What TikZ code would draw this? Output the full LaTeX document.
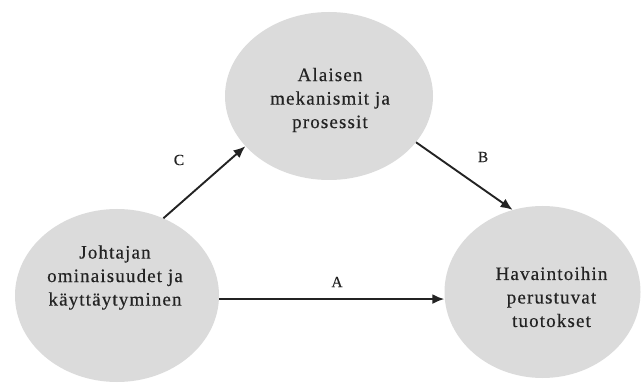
\documentclass[tikz,border=0pt]{standalone}
\usepackage{fontspec}
\setmainfont{Liberation Serif}
\newfontfamily\spacedserif[LetterSpace=6,FakeBold=0.4]{Liberation Serif}
\newfontfamily\labserif[FakeBold=0.3]{Liberation Serif}
\usetikzlibrary{shapes.geometric,arrows.meta}
\definecolor{bubble}{RGB}{219,219,219}
\definecolor{ink}{RGB}{35,35,35}
\tikzset{
  bubble/.style={ellipse, fill=bubble, draw=none, inner sep=0pt},
  intext/.style={align=center, text=ink, font=\spacedserif\fontsize{19}{23.5}\selectfont},
  arr/.style={draw=ink, line width=1.9pt, -{Latex[length=12pt,width=10pt]}},
  lab/.style={text=ink, font=\labserif\fontsize{15.5}{17}\selectfont}
}
\begin{document}
\begin{tikzpicture}[x=1pt,y=1pt]
\useasboundingbox (0,0) rectangle (642,383);
% y in picture = 383 - pixel y
\node[bubble, minimum width=208pt, minimum height=168pt,
      label={[intext,xshift=1pt,yshift=-4pt]center:Alaisen\\mekanismit ja\\prosessit}]
      (T) at (329,287) {};
\node[bubble, minimum width=204pt, minimum height=173pt,
      label={[intext,xshift=-2pt,yshift=18pt]center:Johtajan\\ominaisuudet ja\\käyttäytyminen}]
      (L) at (117,87.5) {};
\node[bubble, minimum width=196pt, minimum height=172pt,
      label={[intext,xshift=9pt,yshift=-5pt]center:Havaintoihin\\perustuvat\\tuotokset}]
      (R) at (542.5,91) {};
\draw[arr] (L.59) -- (T.211);
\draw[arr] (T.332) -- (R.110);
\draw[arr] (L.358) -- (L.358 -| R.west);
\node[lab] (lC) at (179,223) {C};
\node[lab] (lB) at (483,226) {B};
\node[lab] (lA) at (337,101) {A};
\end{tikzpicture}
\end{document}
